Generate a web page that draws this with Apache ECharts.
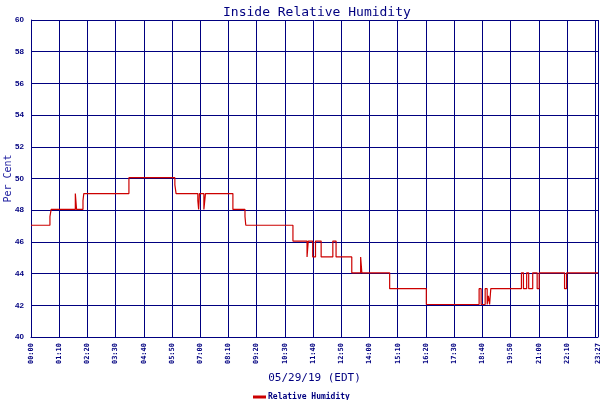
<!DOCTYPE html>
<html>
<head>
<meta charset="utf-8">
<script src="https://cdn.jsdelivr.net/npm/echarts@6/dist/echarts.min.js"></script>
<style>html,body{margin:0;padding:0;background:#fff;}#c{width:600px;height:400px;}</style>
</head>
<body>
<div id="c"></div>
<script>
// change points: minutes since midnight, and relative humidity (%) from that time on
var changeTimes  = [0, 47, 50, 110, 113, 129, 131, 243, 357, 360, 414, 416, 418, 429, 433, 501, 531, 533, 650,
                    685, 688, 699, 706, 720, 749, 757, 796, 818, 821, 890, 981,
                    1112, 1117, 1127, 1132, 1135, 1138, 1141, 1217, 1222, 1230, 1235, 1245, 1256, 1261, 1324, 1329, 1407];
var changeValues = [47.05, 47.6, 48.05, 49.05, 48.05, 48.6, 49.05, 50.05, 49.6, 49.05, 48.6, 48.05, 49.05, 48.05, 49.05, 48.05, 47.6, 47.05, 46.05,
                    45.05, 46.05, 45.05, 46.05, 45.05, 46.05, 45.05, 44.05, 45.05, 44.05, 43.05, 42.05,
                    43.05, 42.05, 43.05, 42.05, 42.6, 42.05, 43.05, 44.05, 43.05, 44.05, 43.05, 44.05, 43.05, 44.05, 43.05, 44.05, 44.05];
var yTicks = [40, 42, 44, 46, 48, 50, 52, 54, 56, 58, 60];
var xTickStep = 70;      // minutes between time labels
var xEnd = 1407;         // last minute shown
var seriesName = 'Relative Humidity';

var navy = '#000080';
function hhmm(v) {
  var h = Math.floor(v / 60), m = Math.round(v % 60);
  return (h < 10 ? '0' : '') + h + ':' + (m < 10 ? '0' : '') + m;
}
var data = changeTimes.map(function (t, i) { return [t, changeValues[i]]; });

var chart = echarts.init(document.getElementById('c'), null, {renderer: 'canvas'});
chart.setOption({
  animation: false,
  backgroundColor: '#fff',
  title: {
    text: 'Inside Relative Humidity',
    left: 218, top: 1,
    textStyle: {fontFamily: 'DejaVu Sans Mono', fontSize: 13, fontWeight: 'normal', color: navy}
  },
  legend: {
    left: 248, top: 388,
    icon: 'rect', itemWidth: 13, itemHeight: 3, itemGap: 4,
    data: [seriesName],
    textStyle: {fontFamily: 'DejaVu Sans Mono', fontSize: 8, fontWeight: 'bold', color: navy, padding: [0, 0, 0, -3]}
  },
  grid: {left: 31, right: 2, top: 20, bottom: 63, outerBoundsMode: 'none', containLabel: false},
  xAxis: {
    type: 'value', min: 0, max: xEnd, interval: xTickStep,
    name: '05/29/19 (EDT)', nameLocation: 'middle', nameGap: 36, nameMoveOverlap: false,
    nameTextStyle: {fontFamily: 'DejaVu Sans Mono', fontSize: 11, color: navy},
    axisLine: {show: true, lineStyle: {color: navy, width: 1}},
    axisTick: {show: false},
    axisLabel: {rotate: 90, margin: 6, formatter: hhmm, showMaxLabel: true, showMinLabel: true,
      fontFamily: 'DejaVu Sans Mono', fontSize: 7, fontWeight: 'bold', color: navy},
    splitLine: {show: true, lineStyle: {color: navy, width: 1}}
  },
  yAxis: {
    type: 'value', min: yTicks[0], max: yTicks[yTicks.length - 1], interval: yTicks[1] - yTicks[0],
    name: 'Per Cent', nameLocation: 'middle', nameGap: 18, nameMoveOverlap: false,
    nameTextStyle: {fontFamily: 'DejaVu Sans Mono', fontSize: 10, color: '#2020a0'},
    axisLine: {show: true, lineStyle: {color: navy, width: 1}},
    axisTick: {show: false},
    axisLabel: {margin: 7, fontFamily: 'Liberation Sans', fontSize: 8, fontWeight: 'bold', color: navy},
    splitLine: {show: true, lineStyle: {color: navy, width: 1}}
  },
  series: [{
    name: seriesName, type: 'line', step: 'end', data: data,
    showSymbol: false, symbol: 'none',
    lineStyle: {color: '#cc0000', width: 1.2},
    itemStyle: {color: '#cc0000'},
    z: 1
  }]
});
</script>
</body>
</html>
